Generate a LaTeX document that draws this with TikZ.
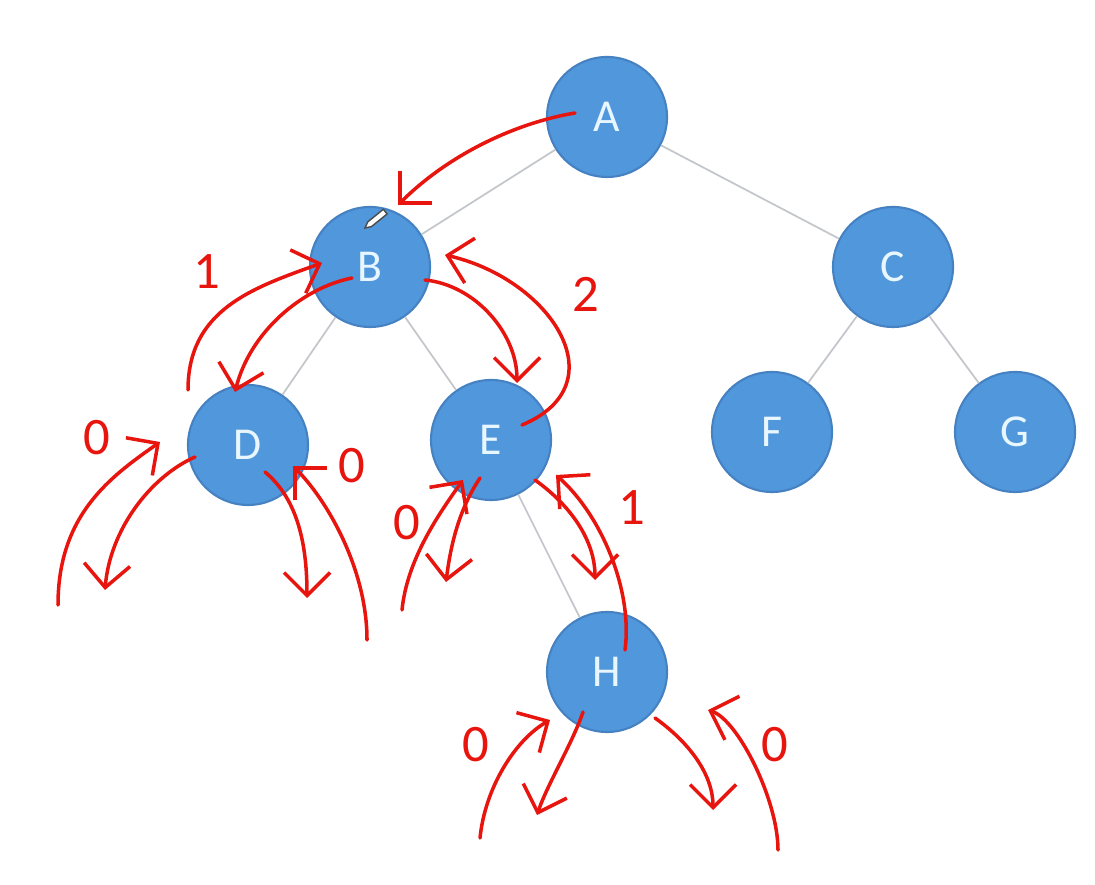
\documentclass[tikz,border=0pt]{standalone}
\usepackage{fontspec}
\setmainfont{Carlito}
\usetikzlibrary{arrows.meta}
\definecolor{nodeblue}{HTML}{5097DC}
\definecolor{nodeedge}{HTML}{4682C2}
\definecolor{nodetext}{HTML}{E8F6FF}
\definecolor{branchgray}{HTML}{C3C6CA}
\definecolor{ink}{HTML}{E8150F}
\begin{document}
\begin{tikzpicture}[
    vertex/.style={circle, draw=nodeedge, fill=nodeblue, line width=0.6pt,
                   inner sep=0pt, minimum size=1.2cm, text=nodetext,
                   font=\fontsize{13}{15}\selectfont},
    branch/.style={draw=branchgray, line width=0.5pt},
    hand/.style={draw=ink, line width=1pt, line cap=round, line join=round,
                 -{Straight Barb[length=2.3mm, width=4.6mm, line width=1pt]}},
    tally/.style={text=ink, font=\fontsize{15}{18}\selectfont, inner sep=0pt}]
  \useasboundingbox (0,0) rectangle (10.95,8.84);
  \node[vertex] (A) at (6.07,7.67) {A};
  \node[vertex] (B) at (3.70,6.17) {B};
  \node[vertex] (C) at (8.93,6.17) {C};
  \node[vertex] (D) at (2.48,4.39) {D};
  \node[vertex] (E) at (4.91,4.44) {E};
  \node[vertex] (F) at (7.72,4.52) {F};
  \node[vertex] (G) at (10.15,4.52) {G};
  \node[vertex] (H) at (6.07,2.12) {H};
  \foreach \a/\b in {A/B, A/C, B/D, B/E, C/F, C/G, E/H}
    \draw[branch] (\a) -- (\b);
  % pencil cursor
  \draw[fill=white, draw=gray!60!black, line width=0.4pt, rotate around={39:(3.65,6.56)}]
    (3.65,6.56) -- (3.71,6.59) -- (3.91,6.59) -- (3.91,6.53) -- (3.71,6.53) -- cycle;
  % free ends
  \coordinate (d1) at (0.58,2.79);
  \coordinate (d2) at (1.05,2.94);
  \coordinate (d3) at (3.07,2.86);
  \coordinate (d4) at (3.67,2.44);
  \coordinate (e1) at (4.02,2.74);
  \coordinate (e2) at (4.46,3.02);
  \coordinate (e3) at (5.95,3.04);
  \coordinate (h1) at (4.80,0.46);
  \coordinate (h2) at (5.37,0.69);
  \coordinate (h3) at (7.13,0.74);
  \coordinate (h4) at (7.78,0.34);
  % walk A, B, D, E
  \draw[hand] ([shift={(-0.32,0.04)}]A.center) .. controls +(-0.6,-0.1) and +(0.5,0.5) .. ([shift={(0.28,0.62)}]B.center);
  \draw[hand] ([shift={(-0.6,0.55)}]D.center) .. controls +(0,0.8) and +(-0.7,-0.25) .. ([shift={(-0.48,0.04)}]B.center);
  \draw[hand] ([shift={(-0.18,-0.11)}]B.center) .. controls +(-0.5,-0.1) and +(0.15,0.6) .. ([shift={(-0.13,0.53)}]D.center);
  \draw[hand] ([shift={(0.55,-0.13)}]B.center) .. controls +(0.5,-0.05) and +(0,0.5) .. ([shift={(0.26,0.57)}]E.center);
  \draw[hand] ([shift={(0.31,0.15)}]E.center) .. controls +(0.98,0.41) and +(1.05,-0.24) .. ([shift={(0.75,0.12)}]B.center);
  % empty children of D
  \draw[hand] (d1) .. controls +(0,0.9) and +(-0.5,-0.35) .. ([shift={(-0.88,0.03)}]D.center);
  \draw[hand] ([shift={(-0.53,-0.12)}]D.center) .. controls +(-0.45,-0.2) and +(0.05,0.6) .. (d2);
  \draw[hand] ([shift={(0.17,-0.27)}]D.center) .. controls +(0.3,-0.25) and +(0,0.6) .. (d3);
  \draw[hand] (d4) .. controls +(0,0.7) and +(0.35,-0.35) .. ([shift={(0.45,-0.21)}]D.center);
  % E and H
  \draw[hand] (e1) .. controls +(0.05,0.5) and +(-0.25,-0.35) .. ([shift={(-0.28,-0.40)}]E.center);
  \draw[hand] ([shift={(-0.11,-0.38)}]E.center) .. controls +(-0.2,-0.3) and +(0.05,0.4) .. (e2);
  \draw[hand] ([shift={(0.44,-0.40)}]E.center) .. controls +(0.35,-0.25) and +(0,0.4) .. (e3);
  \draw[hand] ([shift={(0.18,0.22)}]H.center) .. controls +(0.08,0.6) and +(0.45,-0.4) .. ([shift={(0.65,-0.35)}]E.center);
  \draw[hand] (h1) .. controls +(0.05,0.5) and +(-0.35,-0.2) .. ([shift={(-0.57,-0.48)}]H.center);
  \draw[hand] ([shift={(-0.24,-0.40)}]H.center) .. controls +(-0.1,-0.3) and +(0.1,0.3) .. (h2);
  \draw[hand] ([shift={(0.48,-0.46)}]H.center) .. controls +(0.35,-0.25) and +(0,0.35) .. (h3);
  \draw[hand] (h4) .. controls +(0,0.5) and +(0.3,-0.1) .. ([shift={(1.01,-0.38)}]H.center);
  % heights
  \node[tally] (tB) at (2.07,6.12) {1};
  \node[tally] (tE) at (5.86,5.90) {2};
  \node[tally] (tDl) at (0.97,4.46) {0};
  \node[tally] (tDr) at (3.52,4.18) {0};
  \node[tally] (tEl) at (4.07,3.61) {0};
  \node[tally] (tEr) at (6.32,3.76) {1};
  \node[tally] (tHl) at (4.76,1.39) {0};
  \node[tally] (tHr) at (7.75,1.39) {0};
\end{tikzpicture}
\end{document}
